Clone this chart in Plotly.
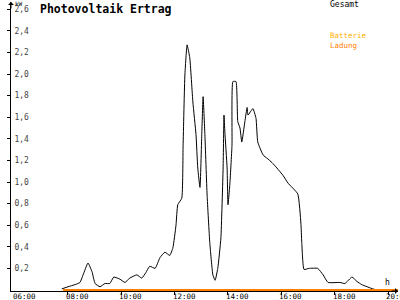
import plotly.graph_objects as go

# ---- data ----
times = ["07:46","08:00","08:16","08:27","08:34","08:45","08:54","09:01","09:12","09:23",
         "09:34","09:43","09:57","10:08","10:19","10:35","10:46","10:55","11:04","11:16",
         "11:27","11:38","11:49","11:56","12:03","12:07","12:16","12:19","12:23","12:28",
         "12:34","12:41","12:48","12:52","12:57","13:01","13:04","13:08","13:13","13:19",
         "13:26","13:31","13:37","13:44","13:49","13:51","13:53","13:58","14:00","14:04",
         "14:09","14:11","14:18","14:22","14:27","14:31","14:38","14:43","14:45","14:56",
         "15:03","15:07","15:19","15:28","15:39","15:50","16:04","16:15","16:37","16:44",
         "16:46","16:51","17:02","17:22","17:34","17:45","18:12","18:23","18:39","18:50",
         "19:01","19:26","19:35"]
gesamt_kw = [0.01,0.03,0.05,0.07,0.14,0.25,0.17,0.06,0.03,0.06,
             0.06,0.12,0.10,0.07,0.11,0.14,0.11,0.16,0.22,0.20,
             0.30,0.35,0.32,0.39,0.60,0.79,0.85,1.34,1.99,2.27,
             2.15,1.74,1.44,1.13,0.95,1.44,1.79,1.44,0.88,0.44,
             0.14,0.09,0.20,0.48,1.13,1.62,1.46,1.13,0.79,0.97,
             1.34,1.93,1.93,1.56,1.50,1.37,1.56,1.69,1.62,1.68,
             1.59,1.37,1.25,1.22,1.18,1.13,1.06,0.99,0.89,0.62,
             0.44,0.19,0.20,0.20,0.14,0.07,0.07,0.06,0.12,0.08,
             0.05,0.01,0.00]
ladung_times = ["07:49", "20:25"]
ladung_kw = [0.0, 0.0]

x_ticks = [6, 8, 10, 12, 14, 16, 18, 20]
x_ticktext = ["06:00", "08:00", "10:00", "12:00", "14:00", "16:00", "18:00", "20:00"]
y_ticks = [0.2, 0.4, 0.6, 0.8, 1.0, 1.2, 1.4, 1.6, 1.8, 2.0, 2.2, 2.4, 2.6]
y_ticktext = ["0,2", "0,4", "0,6", "0,8", "1,0", "1,2", "1,4", "1,6", "1,8", "2,0", "2,2", "2,4", "2,6"]

def to_h(s):
    h, m = s.split(":")
    return int(h) + int(m) / 60.0

MONO = "DejaVu Sans Mono"
W, H = 400, 300
ML, MR, MT, MB = 11, 2, 2, 9
PW, PH = W - ML - MR, H - MT - MB

def px(x):
    return (x - ML) / PW

def py(y):
    return (H - MB - y) / PH

fig = go.Figure()
fig.add_trace(go.Scatter(x=[to_h(t) for t in times], y=gesamt_kw, mode="lines",
                         line=dict(color="black", width=1, shape="spline", smoothing=0.4),
                         name="Gesamt"))
fig.add_trace(go.Scatter(x=[to_h(t) for t in ladung_times], y=ladung_kw, mode="lines",
                         line=dict(color="#FF8000", width=2), name="Ladung"))

fig.update_layout(
    width=W, height=H,
    margin=dict(l=ML, r=MR, t=MT, b=MB, autoexpand=False),
    paper_bgcolor="white", plot_bgcolor="white",
    showlegend=False,
    font=dict(family=MONO, size=8, color="black"),
    xaxis=dict(range=[5.863, 20.375], tickvals=x_ticks, showticklabels=False,
               showgrid=False, zeroline=False, showline=True, linecolor="black", linewidth=1,
               ticks="outside", ticklen=3, tickcolor="black", automargin=False,
               layer="below traces"),
    yaxis=dict(range=[-0.00926, 2.667], tickvals=y_ticks, ticktext=y_ticktext,
               showgrid=False, zeroline=False, showline=True, linecolor="black", linewidth=1,
               ticks="outside", ticklen=3, tickcolor="black", automargin=False,
               layer="below traces",
               ticklabelposition="inside", ticklabelstandoff=2,
               tickfont=dict(family=MONO, size=8)),
)

# x tick labels placed at the axis' tick values (left-aligned like the original)
for tv, tt in zip(x_ticks, x_ticktext):
    fig.add_annotation(x=tv, y=0, xref="x", yref="paper", text=tt, showarrow=False,
                       xanchor="left", yanchor="top", xshift=-3, yshift=0, borderpad=0,
                       font=dict(family=MONO, size=7.5))

anns = [
    dict(x=39, y=1, text="<b>Photovoltaik Ertrag</b>", font=dict(family=MONO, size=11.5)),
    dict(x=14, y=-1, text="kW", font=dict(family=MONO, size=6)),
    dict(x=329, y=-1, text="Gesamt", font=dict(family=MONO, size=8, color="black")),
    dict(x=329, y=30,
         text="<span style='color:#FFB000'>Batterie</span><br><span style='color:#FF8000'>Ladung</span>",
         font=dict(family=MONO, size=7.5)),
    dict(x=384, y=277, text="h", font=dict(family=MONO, size=8)),
]
for a in anns:
    fig.add_annotation(x=px(a["x"]), y=py(a["y"]), xref="paper", yref="paper",
                       text=a["text"], showarrow=False, xanchor="left", yanchor="top",
                       align="left", font=a["font"], borderpad=0)

# axis arrows
fig.add_annotation(x=0, y=1, xref="paper", yref="paper", ax=0, ay=8, axref="pixel", ayref="pixel",
                   showarrow=True, arrowhead=1, arrowsize=1, arrowwidth=1, arrowcolor="black", text="")
fig.add_annotation(x=px(398), y=0, xref="paper", yref="paper", ax=-8, ay=0, axref="pixel", ayref="pixel",
                   showarrow=True, arrowhead=1, arrowsize=1, arrowwidth=1, arrowcolor="black", text="")

fig.write_html("out.html")
